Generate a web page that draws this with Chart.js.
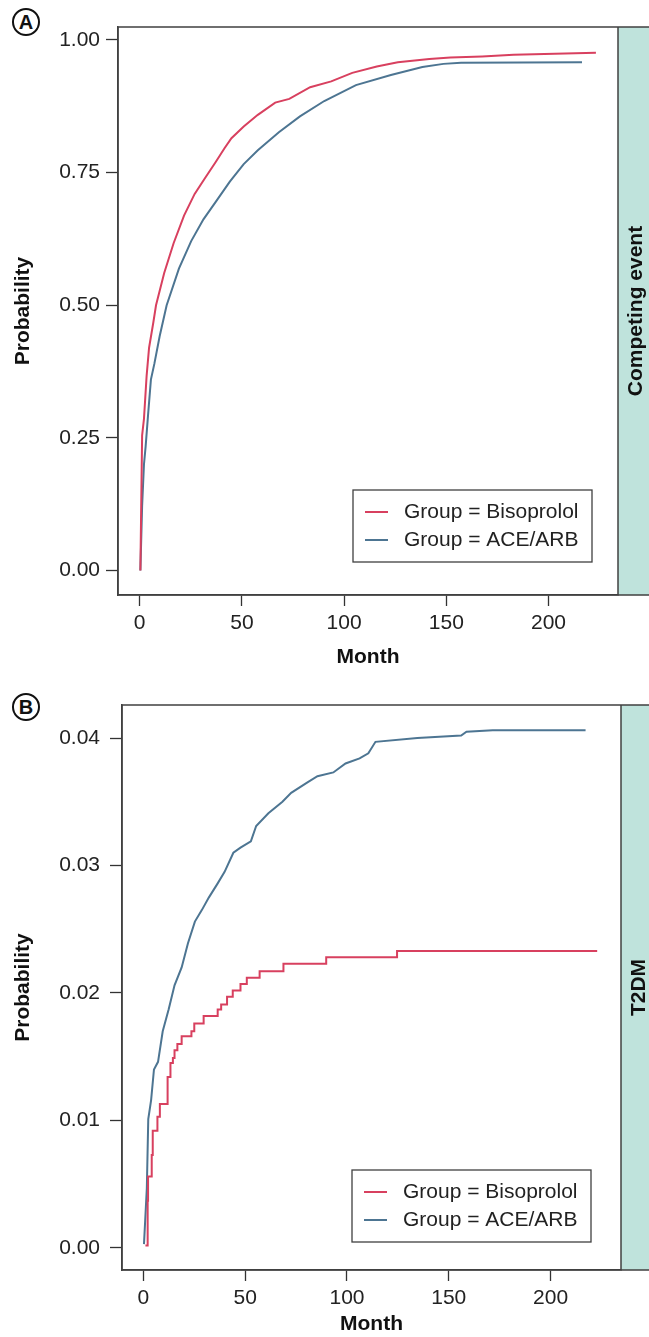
<!DOCTYPE html>
<html>
<head>
<meta charset="utf-8">
<script src="https://cdn.jsdelivr.net/npm/chart.js@4/dist/chart.umd.min.js"></script>
<style>
  body { margin: 0; background: #fff; width: 649px; height: 1337px; position: relative; overflow: hidden; }
  canvas { position: absolute; left: 0; }
  .tag { position: absolute; left: 12px; width: 24px; height: 24px; border: 2px solid #111; border-radius: 50%;
         font: bold 20px "Liberation Sans", Arial, sans-serif; color: #111; text-align: center; line-height: 25px; }
</style>
</head>
<body>
<div class="tag" style="top:8px">A</div>
<div class="tag" style="top:693px">B</div>
<canvas id="chartA" width="649" height="680" style="top:0"></canvas>
<canvas id="chartB" width="649" height="657" style="top:680px"></canvas>
<script>
// panel A - competing event
var monthBisoA = [0.35, 1.2, 2.1, 3.4, 4.6, 6.7, 8.0, 12, 16.6, 21.7, 26.9, 32, 37.2, 41.5, 44.9, 50.9, 57.8, 66.3, 73.2, 83.4, 93.7, 104, 116, 126.3, 141.7, 152, 167.5, 182.9, 223.2];
var probBisoA  = [0, 0.255, 0.286, 0.367, 0.42, 0.468, 0.50, 0.561, 0.617, 0.669, 0.710, 0.740, 0.770, 0.796, 0.815, 0.837, 0.859, 0.882, 0.889, 0.911, 0.922, 0.938, 0.950, 0.958, 0.964, 0.967, 0.969, 0.972, 0.976];
var monthAceA  = [0.35, 1.2, 2.1, 2.9, 4.1, 5.5, 7.2, 9.8, 13.2, 19.2, 25.2, 31.2, 37.2, 44.1, 50.9, 57.8, 68.1, 78.4, 90.3, 105.8, 122.9, 138.3, 148.6, 157.2, 216.4];
var probAceA   = [0, 0.122, 0.20, 0.233, 0.293, 0.36, 0.39, 0.442, 0.50, 0.569, 0.621, 0.662, 0.695, 0.733, 0.766, 0.792, 0.826, 0.856, 0.885, 0.915, 0.934, 0.949, 0.955, 0.957, 0.958];

// panel B - T2DM
var monthBisoB = [1.0, 2.1, 2.3, 4.1, 4.6, 6.9, 8.1, 11.9, 13.3, 14.5, 15.3, 16.7, 18.8, 23.6, 25.0, 29.6, 36.5, 38.2, 41.1, 43.9, 47.7, 50.8, 57.1, 68.8, 89.8, 124.6, 222.9];
var probBisoB  = [0.0002, 0.0037, 0.0056, 0.0073, 0.0092, 0.0103, 0.0113, 0.0134, 0.0145, 0.0149, 0.0155, 0.0160, 0.0166, 0.0170, 0.0176, 0.0182, 0.0187, 0.0191, 0.0197, 0.0202, 0.0207, 0.0212, 0.0217, 0.0223, 0.0228, 0.0233, 0.0233];
var monthAceB  = [0.3, 1.7, 2.4, 3.8, 5.2, 7.2, 9.5, 12.4, 15.3, 18.8, 21.9, 25.3, 28.7, 32.2, 36.5, 39.9, 44.2, 47.7, 52.8, 55.4, 61.4, 68.3, 72.6, 80.4, 85.5, 93.3, 99.3, 106.2, 110.5, 114, 134.6, 156.1, 158.7, 171.6, 217.2];
var probAceB   = [0.0003, 0.0047, 0.0101, 0.0116, 0.0140, 0.0146, 0.0170, 0.0187, 0.0206, 0.0220, 0.0239, 0.0256, 0.0265, 0.0275, 0.0286, 0.0295, 0.0310, 0.0314, 0.0319, 0.0331, 0.0341, 0.0350, 0.0357, 0.0365, 0.0370, 0.0373, 0.0380, 0.0384, 0.0388, 0.0397, 0.0400, 0.0402, 0.0405, 0.0406, 0.0406];

var groups = ["Group = Bisoprolol", "Group = ACE/ARB"];
var colors = ["#d8405f", "#4d7592"];
var xTicks = [0, 50, 100, 150, 200];
var yTicksA = [0, 0.25, 0.5, 0.75, 1];
var yTicksB = [0, 0.01, 0.02, 0.03, 0.04];

var FONT = '"Liberation Sans", Arial, sans-serif';
Chart.defaults.font.family = FONT;
Chart.defaults.font.size = 21;
Chart.defaults.color = "#222";

function pts(xs, ys) {
  return xs.map(function (x, i) { return { x: x, y: ys[i] }; });
}

// teal strip on the right + box round the plot
var stripPlugin = {
  id: "strip",
  afterDraw: function (chart, args, opts) {
    var ctx = chart.ctx, a = chart.chartArea, w = chart.width;
    ctx.save();
    ctx.fillStyle = "#bfe3dc";
    ctx.fillRect(a.right, a.top, w - a.right, a.bottom - a.top);
    ctx.strokeStyle = "#404040";
    ctx.lineWidth = 1.5;
    ctx.strokeRect(a.left, a.top, w + 5 - a.left, a.bottom - a.top);
    ctx.beginPath();
    ctx.moveTo(a.right, a.top);
    ctx.lineTo(a.right, a.bottom);
    ctx.stroke();
    ctx.translate(a.right + 18, (a.top + a.bottom) / 2);
    ctx.rotate(-Math.PI / 2);
    ctx.font = "bold 21px " + FONT;
    ctx.fillStyle = "#111";
    ctx.textAlign = "center";
    ctx.textBaseline = "middle";
    ctx.fillText(opts.text, 0, 0);
    ctx.restore();
  }
};

// boxed legend in the lower right of the plot
var boxLegend = {
  id: "boxLegend",
  afterDraw: function (chart, args, opts) {
    var ctx = chart.ctx, a = chart.chartArea;
    var w = 239, h = 72;
    var x = a.right - opts.right - w, y = a.bottom - opts.bottom - h;
    ctx.save();
    ctx.fillStyle = "#fff";
    ctx.fillRect(x, y, w, h);
    ctx.strokeStyle = "#404040";
    ctx.lineWidth = 1.3;
    ctx.strokeRect(x, y, w, h);
    ctx.font = "21px " + FONT;
    ctx.textBaseline = "middle";
    chart.data.datasets.forEach(function (ds, i) {
      var ry = y + 22 + i * 28;
      ctx.strokeStyle = ds.borderColor;
      ctx.lineWidth = 2;
      ctx.beginPath();
      ctx.moveTo(x + 12, ry);
      ctx.lineTo(x + 35, ry);
      ctx.stroke();
      ctx.fillStyle = "#222";
      ctx.fillText(ds.label, x + 51, ry);
    });
    ctx.restore();
  }
};

function makeChart(id, cfg) {
  return new Chart(document.getElementById(id), {
    type: "line",
    data: {
      datasets: [
        { label: groups[0], data: cfg.biso, borderColor: colors[0], borderWidth: 2, pointRadius: 0, stepped: cfg.stepBiso, fill: false },
        { label: groups[1], data: cfg.ace, borderColor: colors[1], borderWidth: 2, pointRadius: 0, stepped: false, fill: false }
      ]
    },
    options: {
      responsive: false,
      animation: false,
      devicePixelRatio: 1,
      layout: { padding: { top: cfg.top, right: cfg.right, left: 0, bottom: 0 } },
      plugins: {
        legend: { display: false },
        tooltip: { enabled: false },
        strip: { text: cfg.strip },
        boxLegend: { right: cfg.legRight, bottom: cfg.legBottom }
      },
      scales: {
        x: {
          type: "linear",
          min: cfg.xmin, max: cfg.xmax,
          afterBuildTicks: function (axis) { axis.ticks = xTicks.map(function (v) { return { value: v }; }); },
          afterFit: function (axis) { axis.height = cfg.xh; },
          grid: { drawOnChartArea: false, tickLength: 11, tickColor: "#333", tickWidth: 1.3 },
          border: { color: "#404040", width: 1.5 },
          ticks: { padding: 5, maxRotation: 0, callback: function (v) { return v; } },
          title: { display: true, text: "Month", font: { size: 21, weight: "bold" }, color: "#111", padding: { top: 0, bottom: cfg.titlePad } }
        },
        y: {
          min: cfg.ymin, max: cfg.ymax,
          afterBuildTicks: function (axis) { axis.ticks = cfg.yTicks.map(function (v) { return { value: v }; }); },
          afterFit: function (axis) { axis.width = cfg.yw; },
          grid: { drawOnChartArea: false, tickLength: 12, tickColor: "#333", tickWidth: 1.3 },
          border: { color: "#404040", width: 1.5 },
          ticks: { padding: cfg.yPad, callback: function (v) { return v.toFixed(cfg.dec); } },
          title: { display: true, text: "Probability", font: { size: 21, weight: "bold" }, color: "#111", padding: { top: 11, bottom: 0 } }
        }
      }
    },
    plugins: [stripPlugin, boxLegend]
  });
}

makeChart("chartA", {
  biso: pts(monthBisoA, probBisoA), ace: pts(monthAceA, probAceA), stepBiso: false,
  top: 27, right: 31, yw: 118, xh: 85, titlePad: 10,
  xmin: -10.6, xmax: 234, ymin: -0.046, ymax: 1.0245, yTicks: yTicksA, dec: 2, yPad: 6,
  strip: "Competing event", legRight: 26, legBottom: 33
});

makeChart("chartB", {
  biso: pts(monthBisoB, probBisoB), ace: pts(monthAceB, probAceB), stepBiso: true,
  top: 25, right: 28, yw: 122, xh: 67, titlePad: 0,
  xmin: -10.5, xmax: 234.6, ymin: -0.00173, ymax: 0.04259, yTicks: yTicksB, dec: 2, yPad: 10,
  strip: "T2DM", legRight: 30, legBottom: 28
});
</script>
</body>
</html>
